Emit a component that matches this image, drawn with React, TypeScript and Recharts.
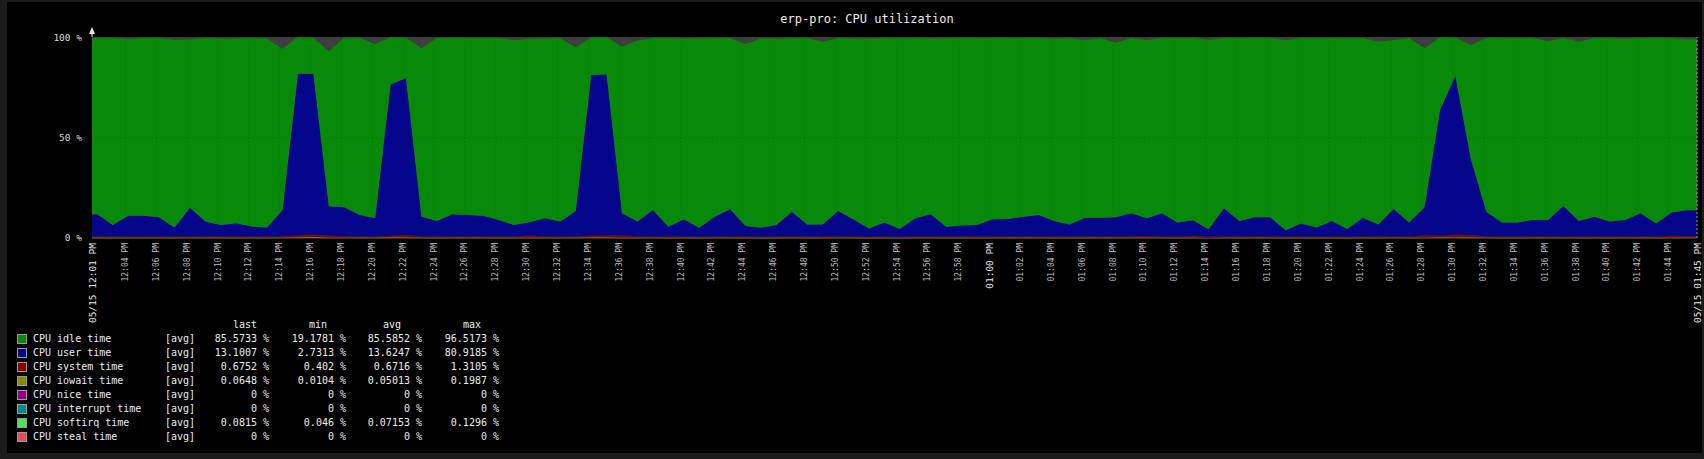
import React from 'react';
import { AreaChart, Area, XAxis, YAxis, CartesianGrid, ReferenceLine } from 'recharts';

// time axis, in minutes after 12:00 PM
const periodStart = 1 + 50 / 60; // 12:01:50 PM
const periodEnd = periodStart + 104; // 01:45:50 PM
const firstSample = 2.18;
const startLabel = '05/15 12:01 PM';
const endLabel = '05/15 01:45 PM';
const tickMinutes = [
  4, 6, 8, 10, 12, 14, 16, 18, 20, 22, 24, 26, 28, 30, 32, 34, 36, 38, 40, 42, 44, 46, 48, 50, 52, 54, 56, 58,
  60, 62, 64, 66, 68, 70, 72, 74, 76, 78, 80, 82, 84, 86, 88, 90, 92, 94, 96, 98, 100, 102, 104,
];
const yTicks = [0, 50, 100];

// one sample per minute (%)
const userTime = [
  11.1, 5.8, 10.4, 10.4, 9.6, 4.5, 14.4, 7.5, 5.8, 6.6,
  5.0, 4.5, 13.2, 81.0, 80.6, 14.6, 14.6, 10.8, 9.1, 75.7,
  78.6, 10.0, 7.8, 11.1, 10.8, 10.4, 8.3, 5.8, 6.6, 9.1,
  7.5, 12.7, 80.3, 80.6, 11.1, 7.5, 13.2, 5.0, 8.6, 4.5,
  9.9, 13.6, 5.3, 4.5, 5.8, 12.4, 6.1, 6.1, 12.7, 8.5,
  4.1, 7.1, 3.8, 9.1, 11.1, 5.0, 5.5, 5.8, 8.6, 8.8,
  9.9, 10.8, 7.8, 6.1, 9.4, 9.4, 9.6, 11.6, 8.8, 11.6,
  7.1, 7.9, 3.8, 14.1, 7.8, 9.6, 9.6, 3.3, 6.6, 4.6,
  7.8, 3.8, 9.4, 6.1, 13.7, 7.1, 14.1, 62.9, 79.5, 38.1,
  12.4, 7.1, 7.1, 8.3, 8.3, 15.2, 7.8, 9.9, 7.5, 8.3,
  11.6, 6.6, 11.6, 13.1,
];
const idleTime = [
  88.2, 93.5, 88.4, 88.9, 89.7, 94.0, 84.1, 91.8, 93.2, 92.4,
  94.3, 94.6, 80.5, 18.3, 18.0, 77.4, 84.7, 88.5, 87.1, 23.6,
  20.1, 84.2, 91.5, 88.2, 88.5, 88.9, 91.0, 92.5, 91.9, 89.9,
  91.8, 81.8, 19.0, 18.7, 83.3, 90.6, 86.1, 94.3, 90.4, 94.8,
  89.4, 85.7, 90.9, 94.8, 93.2, 86.9, 93.2, 91.4, 86.6, 90.5,
  94.9, 92.2, 95.5, 90.2, 87.9, 94.3, 93.8, 93.5, 90.7, 90.5,
  89.4, 88.5, 91.2, 93.2, 88.9, 89.9, 87.3, 87.7, 89.2, 87.7,
  92.2, 91.1, 94.7, 85.2, 91.5, 89.7, 89.7, 95.0, 92.7, 94.7,
  91.5, 95.5, 89.9, 91.4, 84.6, 92.2, 79.6, 36.4, 19.1, 57.1,
  86.9, 92.2, 92.2, 91.0, 89.5, 84.1, 89.7, 89.4, 91.8, 90.5,
  87.7, 92.7, 87.3, 85.5,
];
const systemTime = [
  0.62, 0.6, 0.64, 0.62, 0.63, 0.61, 0.66, 0.62, 0.6, 0.63,
  0.61, 0.62, 0.68, 0.95, 1.3, 1.1, 0.7, 0.64, 0.62, 0.9,
  1.2, 0.66, 0.62, 0.63, 0.61, 0.62, 0.6, 0.61, 1.1, 0.62,
  0.6, 0.66, 0.95, 1.0, 1.2, 0.64, 0.65, 0.6, 0.62, 0.58,
  0.62, 0.66, 0.6, 0.59, 0.61, 0.65, 0.6, 0.61, 0.66, 0.62,
  0.58, 0.61, 0.57, 0.62, 0.64, 0.59, 0.6, 0.6, 0.62, 0.63,
  0.63, 0.64, 0.62, 0.6, 0.62, 0.62, 0.63, 0.64, 0.9, 0.64,
  0.61, 0.9, 0.57, 0.66, 0.61, 0.62, 0.62, 0.56, 0.6, 0.58,
  0.61, 0.57, 0.62, 0.6, 0.66, 0.61, 1.1, 0.95, 1.3, 1.2,
  0.66, 0.61, 0.61, 0.62, 0.62, 0.67, 0.61, 0.63, 0.61, 0.62,
  0.64, 0.6, 1.0, 0.68,
];
const iowaitTime = [
  0.05, 0.04, 0.05, 0.06, 0.05, 0.04, 0.05, 0.05, 0.04, 0.05,
  0.05, 0.04, 0.06, 0.12, 0.19, 0.08, 0.05, 0.05, 0.04, 0.1,
  0.14, 0.05, 0.04, 0.05, 0.05, 0.05, 0.04, 0.05, 0.06, 0.05,
  0.04, 0.05, 0.11, 0.13, 0.06, 0.05, 0.05, 0.04, 0.05, 0.03,
  0.05, 0.05, 0.04, 0.03, 0.04, 0.05, 0.04, 0.04, 0.05, 0.05,
  0.03, 0.04, 0.02, 0.05, 0.05, 0.04, 0.04, 0.04, 0.05, 0.05,
  0.05, 0.05, 0.04, 0.04, 0.05, 0.05, 0.05, 0.05, 0.05, 0.05,
  0.04, 0.05, 0.01, 0.06, 0.04, 0.05, 0.05, 0.02, 0.04, 0.03,
  0.04, 0.02, 0.05, 0.04, 0.06, 0.04, 0.07, 0.12, 0.16, 0.09,
  0.05, 0.04, 0.04, 0.05, 0.05, 0.06, 0.04, 0.05, 0.04, 0.05,
  0.05, 0.04, 0.05, 0.06,
];
const softirqTime = [
  0.07, 0.06, 0.07, 0.08, 0.07, 0.06, 0.08, 0.07, 0.07, 0.06,
  0.07, 0.06, 0.08, 0.12, 0.13, 0.08, 0.08, 0.07, 0.07, 0.11,
  0.12, 0.07, 0.06, 0.07, 0.07, 0.07, 0.06, 0.06, 0.07, 0.07,
  0.06, 0.08, 0.12, 0.12, 0.07, 0.06, 0.08, 0.05, 0.07, 0.05,
  0.07, 0.08, 0.06, 0.05, 0.06, 0.08, 0.06, 0.06, 0.08, 0.07,
  0.05, 0.06, 0.05, 0.07, 0.07, 0.06, 0.06, 0.06, 0.07, 0.07,
  0.07, 0.07, 0.06, 0.06, 0.07, 0.07, 0.07, 0.08, 0.07, 0.08,
  0.06, 0.07, 0.05, 0.08, 0.06, 0.07, 0.07, 0.05, 0.06, 0.05,
  0.06, 0.05, 0.07, 0.06, 0.08, 0.06, 0.08, 0.11, 0.13, 0.1,
  0.08, 0.06, 0.06, 0.07, 0.07, 0.08, 0.06, 0.07, 0.06, 0.07,
  0.08, 0.06, 0.08, 0.08,
];

// legend table
const legendNames = [
  'CPU idle time', 'CPU user time', 'CPU system time', 'CPU iowait time',
  'CPU nice time', 'CPU interrupt time', 'CPU softirq time', 'CPU steal time',
];
const legendColors = ['#088a08', '#06068c', '#8c0000', '#8a8a00', '#8c008c', '#008a8a', '#4ee64e', '#e85050'];
const lastValues = [85.5733, 13.1007, 0.6752, 0.0648, 0, 0, 0.0815, 0];
const minValues = [19.1781, 2.7313, 0.402, 0.0104, 0, 0, 0.046, 0];
const avgValues = [85.5852, 13.6247, 0.6716, 0.05013, 0, 0, 0.07153, 0];
const maxValues = [96.5173, 80.9185, 1.3105, 0.1987, 0, 0, 0.1296, 0];

const sampleAt = (k: number) => ({
  softirq: softirqTime[k],
  iowait: iowaitTime[k],
  system: systemTime[k],
  user: userTime[k],
  idle: idleTime[k],
});

const chartData = [
  { t: periodStart, ...sampleAt(0) },
  ...userTime.map((_, k) => ({ t: firstSample + k, ...sampleAt(k) })),
  { t: periodEnd, ...sampleAt(userTime.length - 1) },
];

const mono = '"DejaVu Sans Mono", "Liberation Mono", monospace';
const pad = (n: number) => String(n).padStart(2, '0');
const formatMinute = (m: number) => `${pad(m < 60 ? 12 : Math.floor(m / 60))}:${pad(Math.round(m) % 60)} PM`;

const TimeTick = (props: any) => {
  const { x, y, payload } = props;
  const v = payload.value;
  const isEdge = v === periodStart || v === periodEnd;
  const big = isEdge || v === 60;
  const label = isEdge ? (v === periodStart ? startLabel : endLabel) : formatMinute(v);
  return (
    <text
      x={x}
      y={y}
      transform={`rotate(-90 ${x} ${y})`}
      textAnchor="end"
      dominantBaseline="central"
      fill={big ? '#e8e8e8' : '#bcbcbc'}
      fontSize={big ? 9.5 : 8}
      fontFamily={mono}
    >
      {label}
    </text>
  );
};

const LegendTable = () => {
  const col = (left: number, width: number, text: string, align: 'left' | 'right' = 'right') => (
    <span style={{ position: 'absolute', left, width, textAlign: align, whiteSpace: 'pre' }}>{text}</span>
  );
  return (
    <div style={{ position: 'absolute', left: 0, top: 318, fontFamily: mono, fontSize: 10, color: '#ececec' }}>
      <div style={{ position: 'relative', height: 14, lineHeight: '14px' }}>
        {col(233, 40, 'last', 'left')}
        {col(309, 40, 'min', 'left')}
        {col(383, 40, 'avg', 'left')}
        {col(463, 40, 'max', 'left')}
      </div>
      {legendNames.map((name, i) => (
        <div key={name} style={{ position: 'relative', height: 14, lineHeight: '14px', width: 520 }}>
          <span
            style={{
              position: 'absolute',
              left: 17,
              top: 2,
              width: 8,
              height: 8,
              background: legendColors[i],
              border: '1px solid #9a9a9a',
            }}
          />
          {col(33, 130, name, 'left')}
          {col(165, 40, '[avg]', 'left')}
          {col(180, 89, `${lastValues[i]} %`)}
          {col(270, 76, `${minValues[i]} %`)}
          {col(340, 82, `${avgValues[i]} %`)}
          {col(420, 79, `${maxValues[i]} %`)}
        </div>
      ))}
    </div>
  );
};

export default function App() {
  return (
    <div style={{ position: 'relative', width: 1704, height: 459, background: '#1c1c1c', overflow: 'hidden' }}>
      <style>{'body{margin:0;background:#1c1c1c}'}</style>
      <div style={{ position: 'absolute', left: 7, top: 2, width: 1695, height: 451, background: '#000' }} />
      <div
        style={{
          position: 'absolute',
          left: 867,
          top: 12,
          transform: 'translateX(-50%)',
          fontFamily: mono,
          fontSize: 12,
          color: '#ececec',
          whiteSpace: 'pre',
        }}
      >
        erp-pro: CPU utilization
      </div>
      <div style={{ position: 'absolute', left: 0, top: 0 }}>
        <AreaChart width={1704} height={340} data={chartData} margin={{ top: 37, right: 7, left: 32, bottom: 0 }}>
          <CartesianGrid fill="#3f3f3f" stroke="none" horizontal={false} vertical={false} />
          <XAxis
            type="number"
            dataKey="t"
            domain={[periodStart, periodEnd]}
            ticks={[periodStart, ...tickMinutes, periodEnd]}
            interval={0}
            allowDataOverflow
            height={102}
            axisLine={false}
            tickLine={false}
            tickSize={0}
            tickMargin={5}
            tick={<TimeTick />}
          />
          <YAxis
            type="number"
            domain={[0, 100]}
            ticks={yTicks}
            width={60}
            axisLine={false}
            tickLine={false}
            tickSize={4}
            tickMargin={6}
            tickFormatter={(v: number) => `${v} %`}
            tick={{ fill: '#d8d8d8', fontSize: 9.5, fontFamily: mono }}
          />
          <Area type="linear" dataKey="softirq" stackId="cpu" fill="#4ee64e" stroke="#4ee64e" strokeWidth={1} isAnimationActive={false} />
          <Area type="linear" dataKey="iowait" stackId="cpu" fill="#8a8a00" stroke="none" isAnimationActive={false} />
          <Area type="linear" dataKey="system" stackId="cpu" fill="#8c0000" stroke="none" fillOpacity={1} isAnimationActive={false} />
          <Area type="linear" dataKey="user" stackId="cpu" fill="#06068c" stroke="none" fillOpacity={1} isAnimationActive={false} />
          <Area type="linear" dataKey="idle" stackId="cpu" fill="#088a08" stroke="none" fillOpacity={1} isAnimationActive={false} />
          {tickMinutes.map((m) => (
            <ReferenceLine key={m} x={m} stroke="#000" strokeOpacity={0.18} strokeDasharray="1 3" />
          ))}
          <ReferenceLine y={50} stroke="#000" strokeOpacity={0.18} strokeDasharray="1 3" />
          <ReferenceLine x={periodEnd} stroke="#9a9a9a" strokeDasharray="2 2" />
        </AreaChart>
      </div>
      <svg style={{ position: 'absolute', left: 0, top: 0 }} width={120} height={40}>
        <polygon points="89,34 95,34 92,27" fill="#e8e8e8" />
        <line x1={92} y1={34} x2={92} y2={37} stroke="#e8e8e8" />
      </svg>
      <LegendTable />
    </div>
  );
}
